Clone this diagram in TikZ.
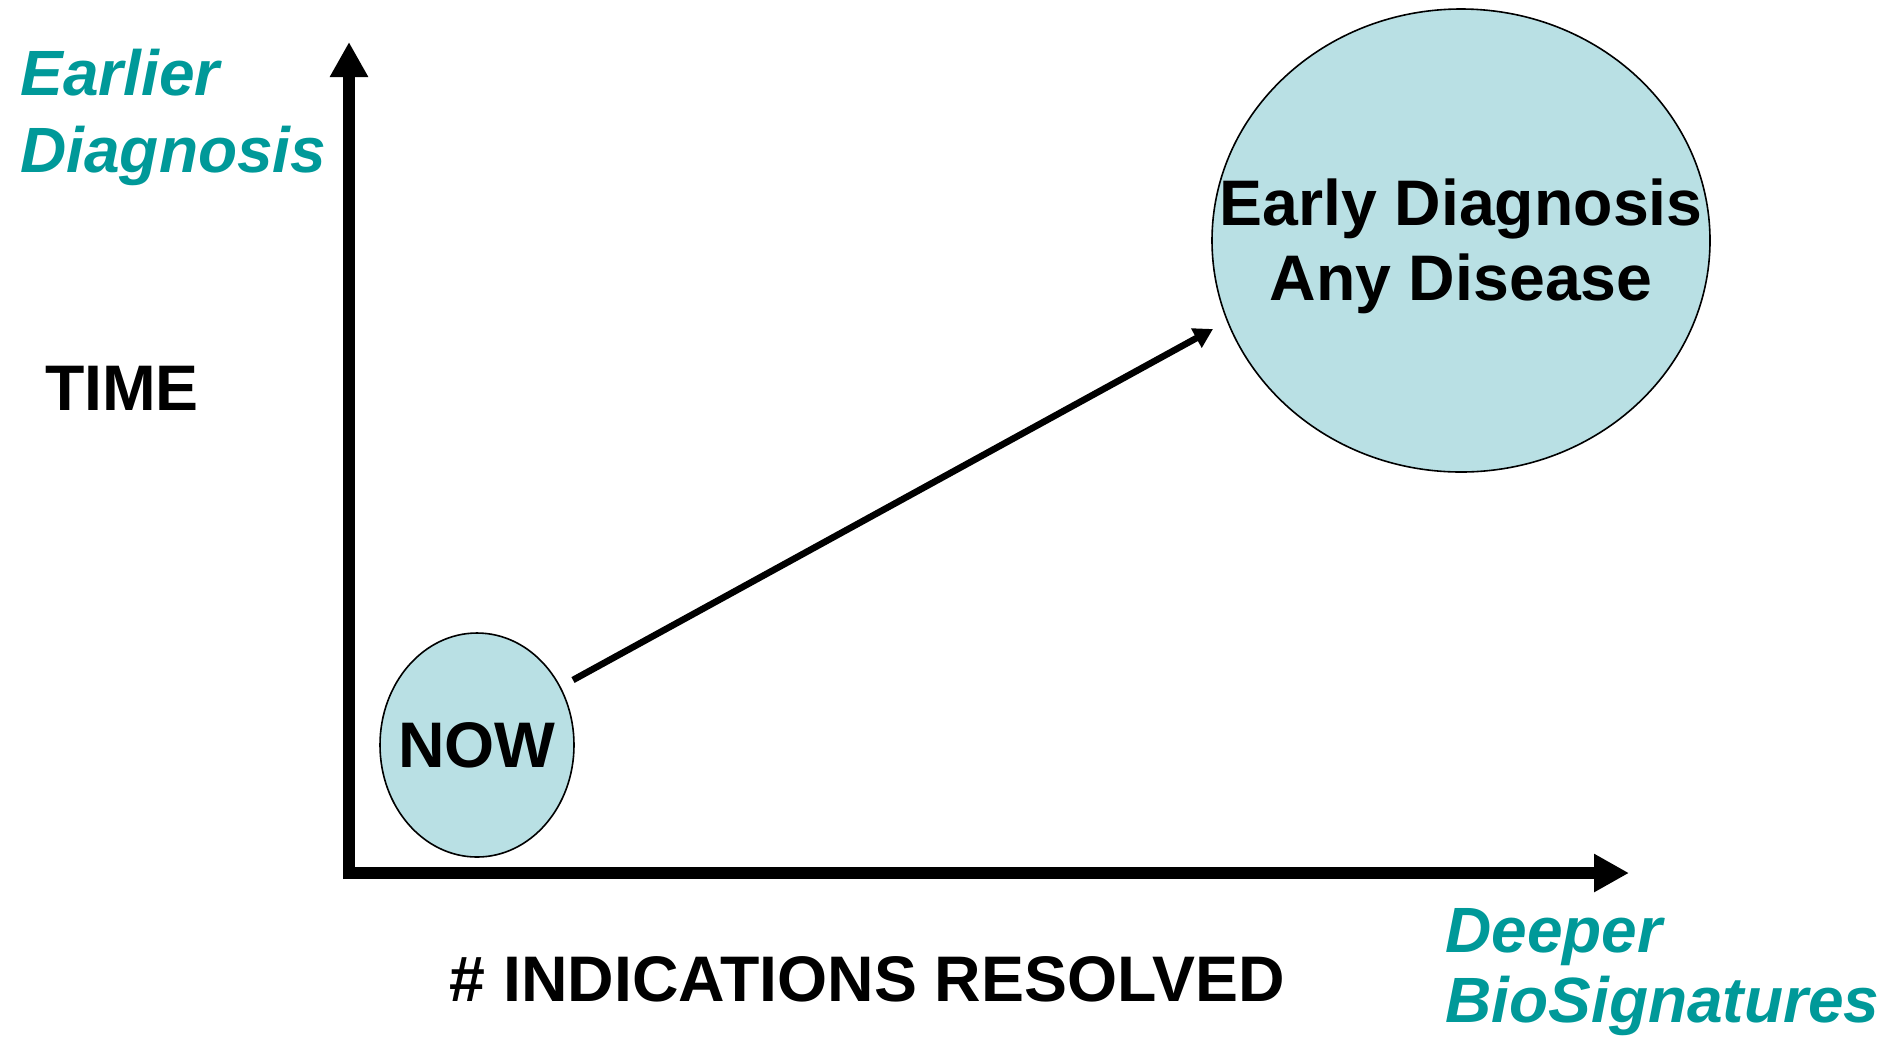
\documentclass[tikz,border=0pt]{standalone}
\usepackage{fontspec}
\setmainfont{Liberation Sans}
\usetikzlibrary{arrows.meta,shapes.geometric,calc}
\definecolor{tealtxt}{RGB}{0,153,153}
\definecolor{blobfill}{RGB}{185,224,228}
\begin{document}
\begin{tikzpicture}[x=0.5pt,y=-0.5pt,
  lbl/.style={font=\fontsize{32.2}{37.5}\selectfont\bfseries, inner sep=0pt},
  tlbl/.style={font=\fontsize{32}{38.5}\selectfont\bfseries\itshape, text=tealtxt, inner sep=0pt, align=left},
  tlblb/.style={font=\fontsize{32}{35}\selectfont\bfseries\itshape, text=tealtxt, inner sep=0pt, align=left},
  blob/.style={ellipse, draw=black, line width=0.8pt, fill=blobfill, inner sep=0pt},
  axisline/.style={line width=6pt, -{Triangle[length=17.5pt,width=18pt]}},
  trend/.style={line width=3.3pt, -{Triangle[length=9.5pt,width=10.5pt]}}]
\useasboundingbox (0,0) rectangle (1888,1040);

% axes
\coordinate (vstart) at (349,879);
\coordinate (hstart) at (343,873);
\coordinate (ytip) at (349,42);
\coordinate (xtip) at (1629,873);
\draw[axisline] (vstart) -- (ytip);
\draw[axisline] (hstart) -- (xtip);

% ellipses
\node[blob, minimum width=97pt, minimum height=112pt] (now) at (477,745) {};
\node[lbl] (nowtxt) at (now.center) {NOW};
\node[blob, minimum width=249pt, minimum height=231.5pt] (big) at (1461,240.5) {};
\node[lbl, align=center, anchor=base] (bigtxt) at (1461,300) {Early Diagnosis\\Any Disease};

% trend arrow
\draw[trend] ($(now.center)+(96,-65)$) -- ($(big.center)+(-248,88.5)$);

% labels
\node[tlbl, anchor=base west] (yhi) at (20,172) {Earlier\\Diagnosis};
\node[lbl, anchor=base] (ylab) at (122,410) {TIME};
\node[lbl, anchor=base] (xlab) at (867,1001) {\# INDICATIONS RESOLVED};
\node[tlblb, anchor=base west] (xhi) at (1445,1022) {Deeper\\BioSignatures};
\end{tikzpicture}
\end{document}
